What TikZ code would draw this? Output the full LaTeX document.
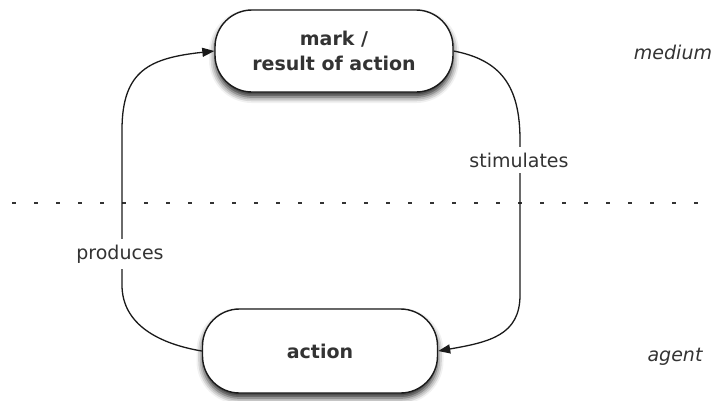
\documentclass[tikz,border=0pt]{standalone}
\usepackage{fontspec}
\setmainfont{DejaVu Sans}
\usetikzlibrary{arrows.meta,shadows.blur}
\definecolor{txt}{HTML}{333333}
\definecolor{ln}{HTML}{1A1A1A}
\tikzset{
  pill/.style={draw=ln, line width=1.4pt, fill=white, rounded corners=37pt,
    minimum width=#1, minimum height=82pt, align=center,
    font=\fontsize{19}{25}\selectfont\bfseries, text=txt,
    blur shadow={shadow xshift=0pt, shadow yshift=-5pt, shadow blur radius=6pt, shadow opacity=85}},
  conn/.style={draw=ln, line width=1.3pt, -{Triangle[length=12pt,width=9pt]}},
  lbl/.style={fill=white, inner xsep=2pt, inner ysep=6pt, font=\fontsize{19}{23}\selectfont, text=txt},
  side/.style={font=\fontsize{19}{23}\selectfont\itshape, text=txt},
  divider/.style={draw=txt, line width=2pt, dash pattern=on 3.5pt off 18.5pt}
}
\begin{document}
\begin{tikzpicture}[x=1pt,y=-1pt]
\useasboundingbox (0,0) rectangle (714,400);
\coordinate (dl) at (12,203);
\coordinate (dr) at (714,203);
\draw[divider] (dl) -- (dr);
\node[pill=238pt] (top) at (334,51) {mark /\\result of action};
\node[pill=235pt, minimum height=84pt] (act) at (320,351) {action};
\node[side] (med) at (673,52) {medium};
\node[side] (agt) at (675,357) {agent};
\draw[conn] (act.west) .. controls (160,344) and (122,325) .. (122,285)
  -- (122,130) .. controls (122,70) and (150,58) .. (top.west);
\draw[conn] (top.east) .. controls (500,60) and (520,85) .. (520,140)
  -- (520,295) .. controls (520,335) and (490,342) .. (act.east);
\node[lbl] (prod) at (120,254) {produces};
\node[lbl] (stim) at (519,160) {stimulates};
\end{tikzpicture}
\end{document}
